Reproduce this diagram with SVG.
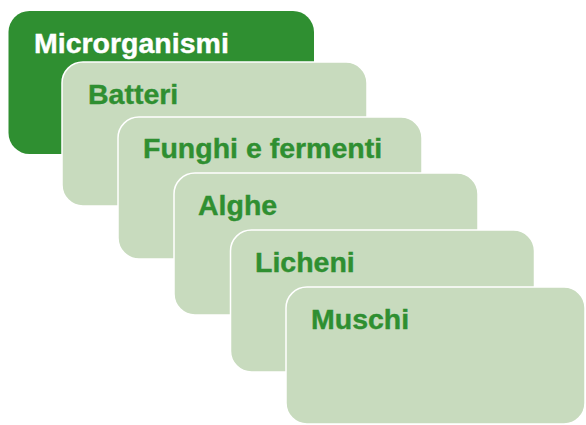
<svg xmlns="http://www.w3.org/2000/svg" width="586" height="425" viewBox="0 0 586 425">
<style>
.dark{fill:#2f8f31;}
.light{fill:#c8dbbe;stroke:#ffffff;stroke-width:1.5;}
.t{font-family:"Liberation Sans",Arial,sans-serif;font-weight:bold;font-size:28.5px;stroke-width:0.4px;}
.tw{fill:#ffffff;stroke:#ffffff;}
.tg{fill:#2f8f31;stroke:#2f8f31;}
</style>
<rect x="0" y="0" width="586" height="425" fill="#ffffff"/>
<g id="microrganismi">
<rect class="dark" x="8.5" y="11" width="305.5" height="143" rx="21" ry="21"/>
<text class="t tw" x="34" y="53">Microrganismi</text>
</g>
<g id="batteri">
<rect class="light" x="62" y="62" width="305" height="144" rx="21" ry="21"/>
<text class="t tg" x="88" y="104">Batteri</text>
</g>
<g id="funghi">
<rect class="light" x="118" y="117" width="304" height="142" rx="21" ry="21"/>
<text class="t tg" x="143" y="158">Funghi e fermenti</text>
</g>
<g id="alghe">
<rect class="light" x="174" y="173" width="304" height="142" rx="21" ry="21"/>
<text class="t tg" x="198" y="215">Alghe</text>
</g>
<g id="licheni">
<rect class="light" x="230.5" y="230" width="304" height="142" rx="21" ry="21"/>
<text class="t tg" x="255" y="272">Licheni</text>
</g>
<g id="muschi">
<rect class="light" x="286" y="287" width="299" height="137" rx="21" ry="21"/>
<text class="t tg" x="311" y="329">Muschi</text>
</g>
<g id="connectors"></g>
</svg>
